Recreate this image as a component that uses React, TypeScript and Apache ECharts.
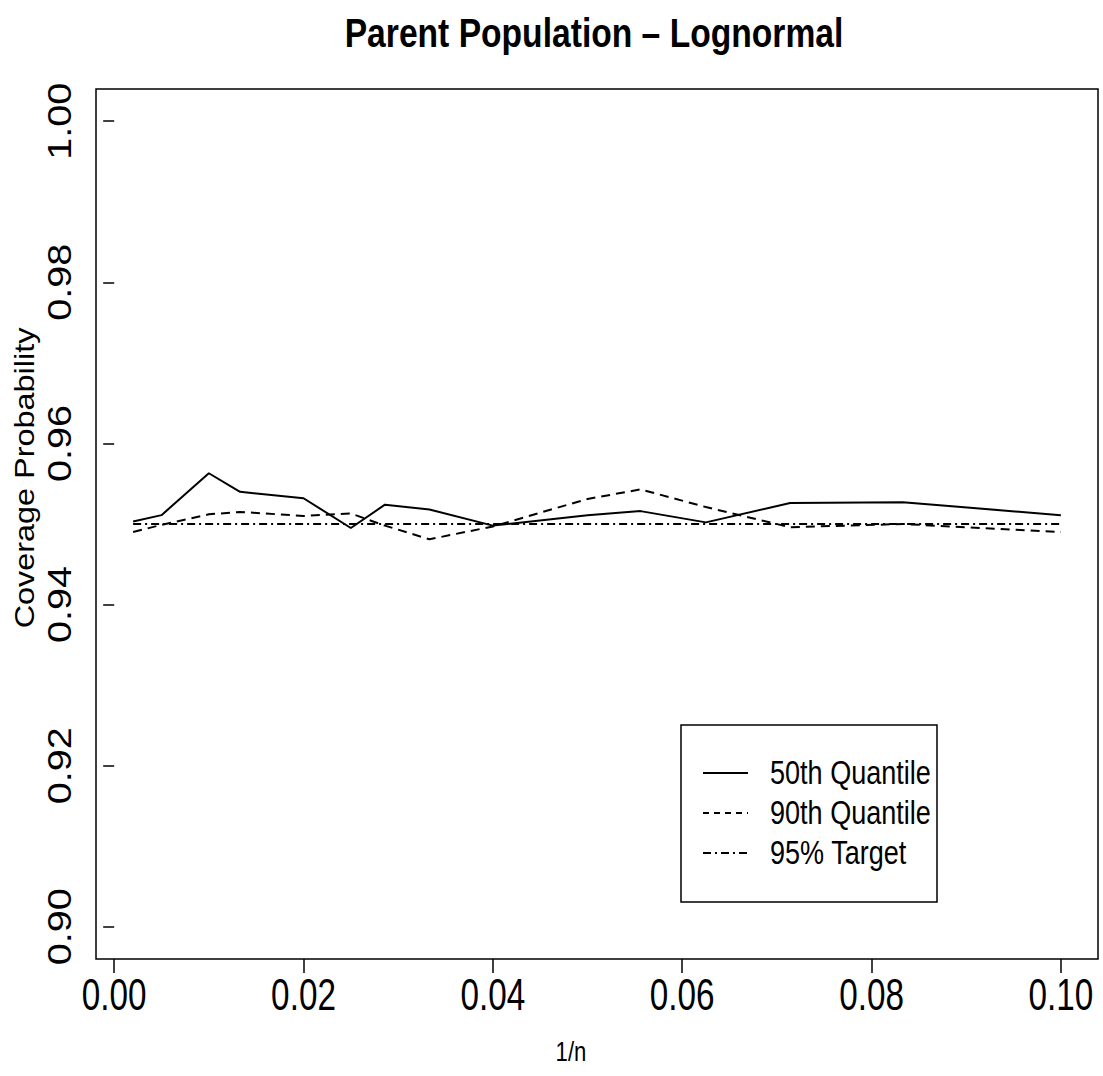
import React, { useEffect, useRef } from "react";
import * as echarts from "echarts";

const xValues = [0.002, 0.005, 0.01, 0.0133, 0.02, 0.025, 0.0286, 0.0333, 0.04, 0.05, 0.0556, 0.0625, 0.0714, 0.0833, 0.1];
const q50 = [0.9503, 0.9511, 0.9563, 0.954, 0.9532, 0.9495, 0.9524, 0.9518, 0.9498, 0.9511, 0.9516, 0.9502, 0.9526, 0.9527, 0.9511];
const q90 = [0.949, 0.9499, 0.9512, 0.9515, 0.951, 0.9513, 0.9498, 0.9481, 0.9497, 0.9531, 0.9543, 0.9521, 0.9496, 0.95, 0.949];
const targetValue = 0.95;
const xTicks = [0, 0.02, 0.04, 0.06, 0.08, 0.1];
const yTicks = [0.9, 0.92, 0.94, 0.96, 0.98, 1.0];
const seriesNames = ["50th Quantile", "90th Quantile", "95% Target"];
const titleText = "Parent Population \u2013 Lognormal";
const xName = "1/n";
const yName = "Coverage Probability";

const SANS = '"Liberation Sans", Arial, Helvetica, sans-serif';

export default function App() {
  const ref = useRef<HTMLDivElement>(null);
  useEffect(() => {
    if (!ref.current) return;
    const chart = echarts.init(ref.current, null, { renderer: "svg" });
    const pairs = (ys: number[]) => xValues.map((x, i) => [x, ys[i]]);
    const target = xValues.map((x) => [x, targetValue]);
    chart.setOption({
      animation: false,
      backgroundColor: "#fff",
      grid: {
        left: 96,
        right: 5,
        top: 89,
        bottom: 117,
        show: true,
        borderColor: "#000",
        borderWidth: 1.5,
        backgroundColor: "transparent",
      },
      xAxis: {
        type: "value",
        min: -0.00192,
        max: 0.10392,
        splitLine: { show: false },
        axisLine: { show: false },
        axisTick: { show: true, length: 14, lineStyle: { color: "#000", width: 1.5 }, customValues: xTicks },
        axisLabel: { show: false },
      },
      yAxis: {
        type: "value",
        min: 0.896,
        max: 1.004,
        splitLine: { show: false },
        axisLine: { show: false },
        axisTick: { show: true, length: 11, lineStyle: { color: "#000", width: 1.5 }, customValues: yTicks },
        axisLabel: { show: false },
      },
      series: [
        {
          name: seriesNames[0],
          type: "line",
          data: pairs(q50),
          symbol: "none",
          lineStyle: { color: "#000", width: 2 },
          z: 3,
        },
        {
          name: seriesNames[1],
          type: "line",
          data: pairs(q90),
          symbol: "none",
          lineStyle: { color: "#000", width: 2, type: [9, 6] },
          z: 2,
        },
        {
          name: seriesNames[2],
          type: "line",
          data: target,
          symbol: "none",
          lineStyle: { color: "#000", width: 2, type: [8, 4, 2, 4] },
          z: 1,
        },
      ],
    });

    const graphics: any[] = [];
    graphics.push({
      type: "text",
      x: 594,
      y: 33,
      scaleX: 0.82,
      style: { text: titleText, font: `bold 41px ${SANS}`, fill: "#000", align: "center", verticalAlign: "middle" },
    });
    xTicks.forEach((v) => {
      const px = chart.convertToPixel({ xAxisIndex: 0 }, v) as number;
      graphics.push({
        type: "text",
        x: px,
        y: 994,
        scaleX: 0.74,
        style: { text: v.toFixed(2), font: `45px ${SANS}`, fill: "#000", align: "center", verticalAlign: "middle" },
      });
    });
    yTicks.forEach((v) => {
      const py = chart.convertToPixel({ yAxisIndex: 0 }, v) as number;
      graphics.push({
        type: "text",
        x: 60,
        y: py,
        rotation: Math.PI / 2,
        scaleX: 1.2,
        style: { text: v.toFixed(2), font: `33px ${SANS}`, fill: "#000", align: "center", verticalAlign: "middle" },
      });
    });
    graphics.push({
      type: "text",
      x: 571,
      y: 1052,
      scaleX: 0.82,
      style: { text: xName, font: `27px ${SANS}`, fill: "#000", align: "center", verticalAlign: "middle" },
    });
    graphics.push({
      type: "text",
      x: 24,
      y: 478,
      rotation: Math.PI / 2,
      scaleX: 1.2,
      style: { text: yName, font: `27px ${SANS}`, fill: "#000", align: "center", verticalAlign: "middle" },
    });
    const lx = 681, ly = 725, lw = 256, lh = 177;
    const rows = [773, 813, 853];
    const dashes: (number[] | null)[] = [null, [6, 5], [8, 4, 2, 4]];
    graphics.push({
      type: "rect",
      shape: { x: lx, y: ly, width: lw, height: lh },
      style: { fill: "#fff", stroke: "#000", lineWidth: 1.5 },
      z: 10,
    });
    rows.forEach((ry, i) => {
      graphics.push({
        type: "line",
        shape: { x1: lx + 22, y1: ry, x2: lx + 67, y2: ry },
        style: { stroke: "#000", lineWidth: 2, lineDash: dashes[i] || undefined },
        z: 11,
      });
      graphics.push({
        type: "text",
        x: lx + 89,
        y: ry,
        scaleX: 0.82,
        style: { text: seriesNames[i], font: `33px ${SANS}`, fill: "#000", align: "left", verticalAlign: "middle" },
        z: 11,
      });
    });
    chart.setOption({ graphic: graphics });
    return () => chart.dispose();
  }, []);
  return <div ref={ref} style={{ position: "absolute", left: 0, top: 0, width: 1103, height: 1076 }} />;
}
